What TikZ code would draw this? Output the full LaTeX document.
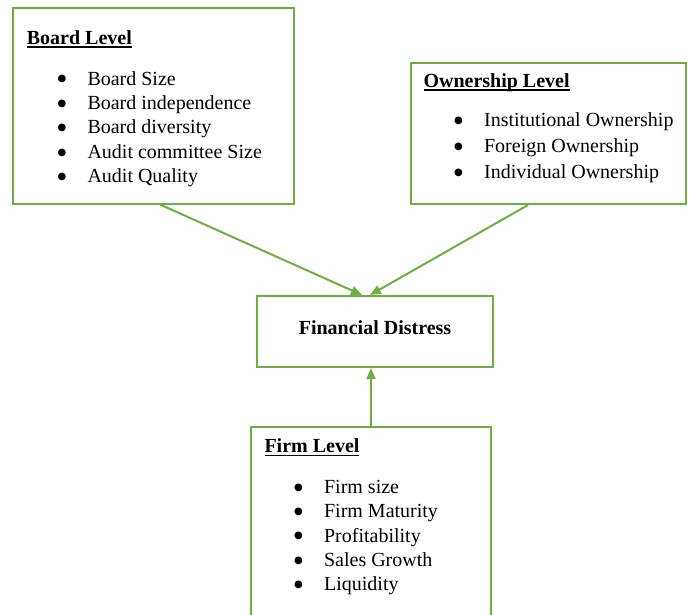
\documentclass[tikz,border=0pt]{standalone}
\usepackage{fontspec}
\setmainfont{Liberation Serif}
\usepackage{xcolor}
\usetikzlibrary{positioning,arrows.meta}
\definecolor{levelgreen}{RGB}{112,173,71}
\newcommand{\levelhead}[1]{\setbox0\hbox{\textbf{#1}}\rlap{\vrule width\wd0 height -2pt depth 3.6pt}\box0}
\newcommand{\listbullet}{\raisebox{-4.8pt}{\scalebox{1.6}{\textbullet}}}

\begin{document}
\begin{tikzpicture}[x=1pt, y=-1pt, font=\fontsize{20}{24.4}\selectfont,
    levelbox/.style={draw=levelgreen, line width=2pt},
    listtext/.style={anchor=base west, inner sep=0pt},
    link/.style={draw=levelgreen, line width=2pt, -{Triangle[length=11pt,width=9pt,fill=levelgreen]}}]
    \useasboundingbox (0,0) rectangle (690,614);
    \clip (0,0) rectangle (690,614);

    % Board level
    \node[levelbox, minimum width=281pt, minimum height=196pt] (board) at (153.5,105.5) {};
    \node[listtext] (boardhead) at (26.7,44) {\levelhead{Board Level}};
    \node[listtext] (boardlist) at (56.1,85) {\begin{tabular}[t]{@{}c@{\hspace{20pt}}l@{}}
        \listbullet & Board Size\\
        \listbullet & Board independence\\
        \listbullet & Board diversity\\
        \listbullet & Audit committee Size\\
        \listbullet & Audit Quality
    \end{tabular}};

    % Ownership level
    \node[levelbox, minimum width=275pt, minimum height=141pt] (ownership) at (548.5,133.5) {};
    \node[listtext] (ownershiphead) at (423.3,87) {\levelhead{Ownership Level}};
    \node[listtext, font=\fontsize{20}{26}\selectfont] (ownershiplist) at (452.7,126.5) {\begin{tabular}[t]{@{}c@{\hspace{20pt}}l@{}}
        \listbullet & Institutional Ownership\\
        \listbullet & Foreign Ownership\\
        \listbullet & Individual Ownership
    \end{tabular}};

    % Financial distress
    \node[levelbox, minimum width=236pt, minimum height=71pt, text depth=8pt,
        font=\fontsize{20}{24.4}\selectfont\bfseries] (distress) at (375,331.5) {Financial Distress};

    % Firm level
    \node[levelbox, minimum width=240pt, minimum height=220pt] (firm) at (371,537) {};
    \node[listtext] (firmhead) at (264.3,452.7) {\levelhead{Firm Level}};
    \node[listtext] (firmlist) at (292.7,493.3) {\begin{tabular}[t]{@{}c@{\hspace{20pt}}l@{}}
        \listbullet & Firm size\\
        \listbullet & Firm Maturity\\
        \listbullet & Profitability\\
        \listbullet & Sales Growth\\
        \listbullet & Liquidity
    \end{tabular}};

    % Links
    \draw[link] ([xshift=6.5pt]board.south) -- ([xshift=-13pt]distress.north);
    \draw[link] ([xshift=-20.5pt]ownership.south) -- ([xshift=-5pt]distress.north);
    \draw[link] (firm.north) -- (firm.north |- distress.south);
\end{tikzpicture}
\end{document}
